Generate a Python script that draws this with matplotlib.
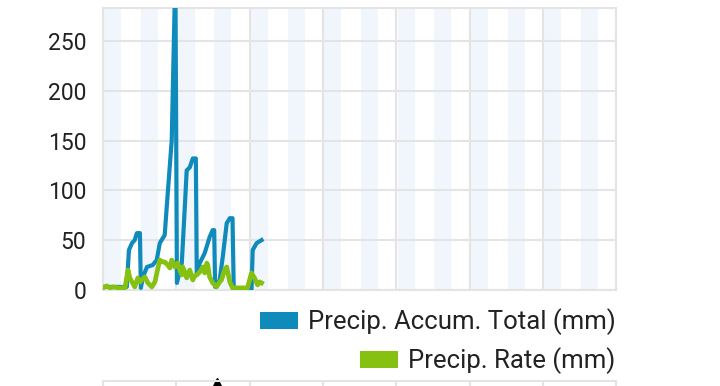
import numpy as np
import matplotlib
matplotlib.use("Agg")
import matplotlib.pyplot as plt
from matplotlib.patches import Patch

plt.rcParams['font.family'] = ['Roboto', 'DejaVu Sans']

# hours since start of the window
accum_hours = [0, 7.8, 8.5, 9.5, 10.4, 11.1, 12.1, 12.4, 13.1, 14.4, 16.3, 17.6,
               18.6, 20.2, 21.2, 22.5, 23.7, 24.2, 25.8, 26.8, 27.4, 28.4, 29.4,
               30.4, 30.7, 31.7, 33.3, 34.9, 35.9, 36.4, 36.7, 38.2, 39.2, 40.5,
               41.5, 42.4, 42.8, 48.0, 48.6, 49.0, 50.3, 51.9]
accum_total = [3, 3, 40, 47, 50, 57, 57, 2, 13, 23, 25, 30,
               47, 55, 97, 150, 320, 7, 27, 84, 120, 123, 132,
               132, 17, 27, 37, 53, 60, 60, 3, 10, 33, 67,
               72, 72, 0, 0, -2, 40, 47, 50]

rate_hours = [0, 1.2, 2.3, 3.5, 4.9, 7.2, 8.2, 8.8, 9.5, 10.4, 11.4, 12.1, 12.7,
              13.7, 14.7, 16.0, 17.0, 18.0, 18.6, 19.6, 20.2, 21.2, 21.9, 22.5,
              23.5, 24.5, 25.1, 25.8, 26.1, 26.8, 27.4, 28.4, 29.4, 30.0, 30.7,
              31.7, 32.7, 33.3, 34.0, 34.3, 34.9, 35.9, 37.2, 38.2, 38.8, 39.8,
              40.5, 41.5, 42.4, 44.7, 47.3, 48.6, 49.6, 50.6, 51.3, 51.9]
precip_rate = [2, 4, 2, 3, 2, 2, 20, 12, 8, 3, 12, 8, 10,
               13, 7, 3, 8, 22, 30, 28, 28, 25, 22, 30,
               23, 27, 20, 15, 23, 18, 12, 20, 10, 14, 15,
               18, 23, 17, 27, 25, 13, 7, 3, 8, 10, 20,
               23, 8, 2, 2, 2, 17, 12, 5, 8, 7]

n_days = 7
wind_hours = [37.2]

fig = plt.figure(figsize=(7.2, 3.86), dpi=100)
ax = fig.add_axes([0.143, 0.249, 0.713, 0.730])

band_color = "#f0f6fc"
grid_color = "#e4e4e4"
for d in range(n_days):
    for start in (0.4, 12.4):
        ax.axvspan(d * 24 + start, d * 24 + start + 5.6, color=band_color, lw=0, zorder=0)

ax.set_xlim(0, n_days * 24)
ax.set_ylim(0, 283)
ax.set_xticks(np.arange(0, n_days * 24 + 1, 24))
ax.set_yticks([0, 50, 100, 150, 200, 250])
ax.grid(True, color=grid_color, lw=1.5, zorder=1)
ax.set_axisbelow(True)
ax.tick_params(axis='x', length=0, labelbottom=False)
ax.tick_params(axis='y', length=0, pad=12, labelsize=16.5, labelcolor="#222222")
for s in ax.spines.values():
    s.set_color(grid_color)
    s.set_linewidth(1.5)

ax.plot(accum_hours, accum_total, color="#0e8bbb", lw=3.0, zorder=3)
ax.plot(rate_hours, precip_rate, color="#86c112", lw=3.4, zorder=4)

h1 = Patch(facecolor="#0e8bbb", edgecolor="none")
h2 = Patch(facecolor="#86c112", edgecolor="none")
for h, lab, yy in [(h1, "Precip. Accum. Total (mm)", 0.166), (h2, "Precip. Rate (mm)", 0.065)]:
    fig.legend([h], [lab], loc="center right", bbox_to_anchor=(0.855, yy),
               frameon=False, fontsize=18.5, borderpad=0, borderaxespad=0,
               handlelength=1.48, handleheight=0.62, handletextpad=0.4,
               labelcolor="#222222")

# next chart (wind), only its top edge is visible
ax2 = fig.add_axes([0.143, -0.5, 0.713, 0.513])
ax2.set_xlim(0, n_days * 24)
ax2.set_ylim(0, 1)
ax2.set_xticks(np.arange(0, n_days * 24 + 1, 24))
ax2.set_yticks([])
ax2.tick_params(axis='x', length=0, labelbottom=False)
ax2.grid(True, axis='x', color=grid_color, lw=1.5)
for s in ax2.spines.values():
    s.set_color(grid_color)
    s.set_linewidth(1.5)
ax2.plot(wind_hours, [0.985] * len(wind_hours), marker="^", color="black",
         ms=8, ls="none", clip_on=False)

fig.savefig("out.png", dpi=100)
